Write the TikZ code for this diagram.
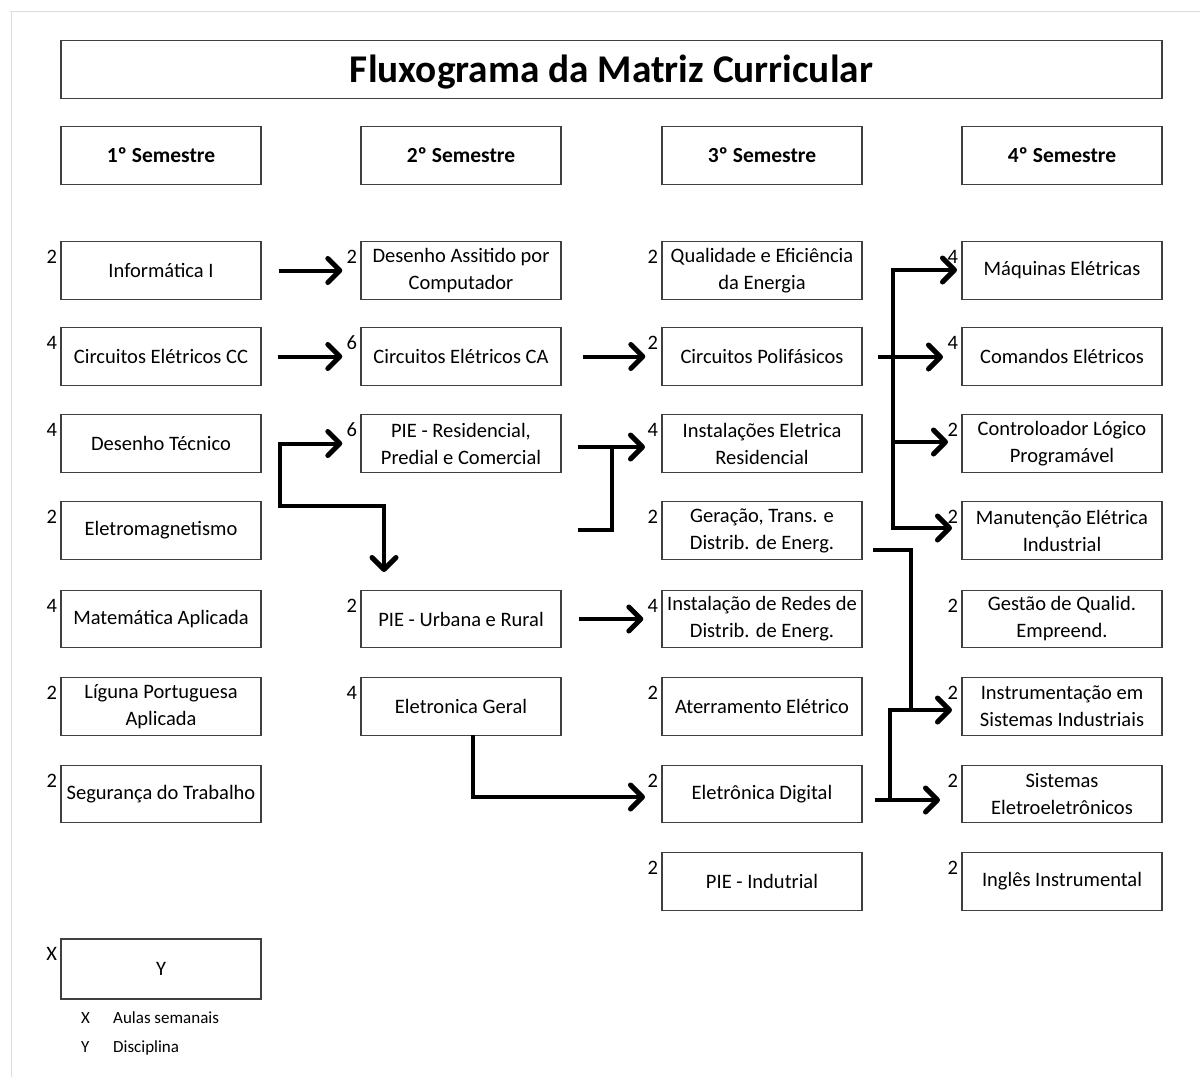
\documentclass[tikz,border=0pt]{standalone}
\usepackage{fontspec}
\setmainfont{Carlito}
\usetikzlibrary{arrows.meta}
\definecolor{boxline}{HTML}{404040}
\definecolor{frameline}{HTML}{DCDCDC}
\tikzset{
  box/.style={draw=boxline, line width=1.4pt, minimum width=200pt, minimum height=57.5pt,
    inner sep=2pt, align=center, font=\fontsize{20.5}{27}\selectfont},
  hdr/.style={box, font=\fontsize{21.5}{27}\selectfont\bfseries},
  num/.style={inner sep=0pt, anchor=east, font=\fontsize{20.5}{24}\selectfont},
  lw/.style={line width=4pt, line join=miter},
  conn/.style={lw, -{Straight Barb[length=12pt,width=24pt,line width=5pt,round]}},
  conn2/.style={lw, {Straight Barb[length=12pt,width=24pt,line width=5pt,round]}-{Straight Barb[length=12pt,width=24pt,line width=5pt,round]}},
  leg/.style={inner sep=0pt, anchor=base west, font=\fontsize{17}{20}\selectfont},
}
\newcommand\course[5]{%
  \node[box] (#1) at (#2,#3) {#5};
  \node[num] (#1n) at ([xshift=-3pt,yshift=-16pt]#1.north west) {#4};
}
\begin{document}
\begin{tikzpicture}[x=1pt,y=-1pt]
\useasboundingbox (0,0) rectangle (1200,1077);
\draw[frameline, line width=1.2pt] (10,11.5) -- (1200,11.5);
\draw[frameline, line width=1.2pt] (11.5,11) -- (11.5,1077);

\node[box, minimum width=1101pt, minimum height=57.5pt] (title) at (611.5,69.5) {};
\node[inner sep=0pt, anchor=base, font=\fontsize{39.3}{42}\selectfont\bfseries] (titletext) at (611.5,82.5) {Fluxograma da Matriz Curricular};

\node[hdr] (s1) at (161,155.5) {1º Semestre};
\node[hdr] (s2) at (461,155.5) {2º Semestre};
\node[hdr] (s3) at (762,155.5) {3º Semestre};
\node[hdr] (s4) at (1062,155.5) {4º Semestre};

% column 1
\course{inf}{161}{270.5}{2}{Informática I}
\course{cc}{161}{356.5}{4}{Circuitos Elétricos CC}
\course{dt}{161}{443.5}{4}{Desenho Técnico}
\course{em}{161}{530.5}{2}{Eletromagnetismo}
\course{ma}{161}{619}{4}{Matemática Aplicada}
\course{lp}{161}{706.5}{2}{Líguna Portuguesa\\Aplicada}
\course{st}{161}{794}{2}{Segurança do Trabalho}

% column 2
\course{dac}{461}{270.5}{2}{Desenho Assitido por\\Computador}
\course{ca}{461}{356.5}{6}{Circuitos Elétricos CA}
\course{pres}{461}{443.5}{6}{PIE - Residencial,\\Predial e Comercial}
\course{purb}{461}{619}{2}{PIE - Urbana e Rural}
\course{eg}{461}{706.5}{4}{Eletronica Geral}

% column 3
\course{qee}{762}{270.5}{2}{Qualidade e Eficiência\\da Energia}
\course{poli}{762}{356.5}{2}{Circuitos Polifásicos}
\course{ier}{762}{443.5}{4}{Instalações Eletrica\\Residencial}
\course{ger}{762}{530.5}{2}{Geração, Trans. e\\Distrib. de Energ.}
\course{ird}{762}{619}{4}{Instalação de Redes de\\Distrib. de Energ.}
\course{ate}{762}{706.5}{2}{Aterramento Elétrico}
\course{edig}{762}{794}{2}{Eletrônica Digital}
\course{pind}{762}{881.5}{2}{PIE - Indutrial}

% column 4
\course{maq}{1062}{270.5}{4}{Máquinas Elétricas}
\course{com}{1062}{356.5}{4}{Comandos Elétricos}
\course{clp}{1062}{443.5}{2}{Controloador Lógico\\Programável}
\course{man}{1062}{530.5}{2}{Manutenção Elétrica\\Industrial}
\course{gq}{1062}{619}{2}{Gestão de Qualid.\\Empreend.}
\course{ins}{1062}{706.5}{2}{Instrumentação em\\Sistemas Industriais}
\course{see}{1062}{794}{2}{Sistemas\\Eletroeletrônicos}
\course{ing}{1062}{881.5}{2}{Inglês Instrumental}

% legend
\node[box, minimum height=60pt] (legbox) at (161,969) {Y};
\node[num] (legx) at ([xshift=-3pt,yshift=-16pt]legbox.north west) {X};
\node[leg] (lx) at (81,1023) {X};
\node[leg] (lxt) at (113,1023) {Aulas semanais};
\node[leg] (ly) at (81,1052) {Y};
\node[leg] (lyt) at (113,1052) {Disciplina};

% connectors
\coordinate (j1) at (280,443.5);
\coordinate (j2) at (280,506);
\coordinate (j3) at (384,506);
\coordinate (j4) at (384,572);
\draw[conn] ([xshift=17pt]inf.east) -- ([xshift=-18pt]dac.west);
\draw[conn] ([xshift=16pt]cc.east) -- ([xshift=-18pt]ca.west);
\draw[conn2] ([xshift=-18pt]pres.west) -- (j1) -- (j2) -- (j3) -- (j4);
\draw[conn] ([xshift=21pt]ca.east) -- ([xshift=-16pt]poli.west);
\draw[conn] ([xshift=17pt]purb.east) -- ([xshift=-18pt]purb.east -| ird.west);

\coordinate (b1) at (578,447);
\coordinate (b2) at (612,447);
\coordinate (b3) at (612,530);
\coordinate (b4) at (578,530);
\coordinate (b5) at (645,447);
\draw[lw] (b1) -- (b2);
\draw[conn] (b4) -- (b3) -- (b2) -- (b5);

\coordinate (e1) at (473,735);
\coordinate (e2) at (473,797);
\coordinate (e3) at (645,797);
\draw[conn] (e1) -- (e2) -- (e3);

% fan out to 4th semester
\coordinate (f0) at (878,357);
\coordinate (f1) at (893,270);
\coordinate (f2) at (893,528);
\coordinate (fm) at (957,270);
\coordinate (fman) at (952,528);
\coordinate (fc) at (943,357);
\coordinate (fclp0) at (893,442);
\coordinate (fclp) at (948,442);
\draw[conn2] (fm) -- (f1) -- (f2) -- (fman);
\draw[conn] (f0) -- (fc);
\draw[conn] (fclp0) -- (fclp);

% Geração / Eletrônica Digital to 4th semester
\coordinate (g1) at (873,550);
\coordinate (g2) at (911,550);
\coordinate (g3) at (911,710);
\coordinate (h1) at (952,710);
\coordinate (h2) at (890,710);
\coordinate (h3) at (890,800);
\coordinate (h4) at (875,800);
\coordinate (h5) at (940,800);
\draw[lw] (g1) -- (g2) -- (g3);
\draw[conn] (h3) -- (h2) -- (h1);
\draw[conn] (h4) -- (h5);
\end{tikzpicture}
\end{document}
